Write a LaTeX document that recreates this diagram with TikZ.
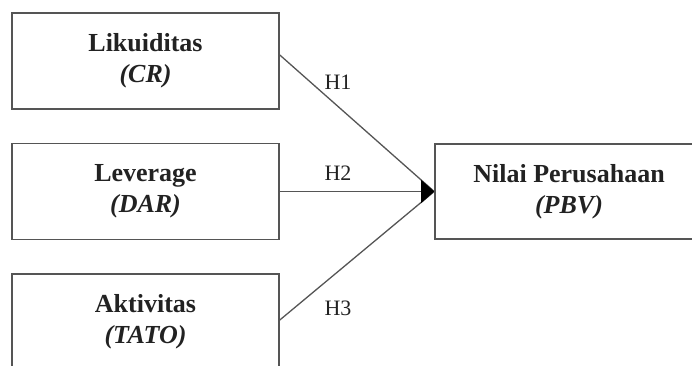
\documentclass[tikz,border=0pt]{standalone}
\usepackage{fontspec}
\setmainfont{Liberation Serif}
\usetikzlibrary{arrows.meta}
\definecolor{linegray}{HTML}{555555}
\definecolor{txt}{HTML}{222222}
\begin{document}
\begin{tikzpicture}[x=1pt,y=1pt,
  varbox/.style={draw=linegray,line width=1.6pt,minimum width=267pt,minimum height=96pt,inner sep=0pt,
    align=center,text=txt,font=\fontsize{26}{31}\selectfont\bfseries},
  conn/.style={draw=linegray,line width=1.3pt},
  connhead/.style={conn,-{Triangle[length=13pt,width=23pt,color=black]}},
  hlab/.style={text=txt,font=\fontsize{22}{26}\selectfont}]
\useasboundingbox (0,0) rectangle (692,365);
\node[varbox] (b1) at (145.5,304) {Likuiditas\\\textit{(CR)}};
\node[varbox] (b2) at (145.5,173.5) {Leverage\\\textit{(DAR)}};
\node[varbox] (b3) at (145.5,43) {Aktivitas\\\textit{(TATO)}};
\node[varbox,minimum width=268pt,minimum height=95pt] (pbv) at (569,173.5) {Nilai Perusahaan\\\textit{(PBV)}};
\coordinate (s1) at ([yshift=6pt]b1.east);
\coordinate (s3) at ([yshift=2pt]b3.east);
\draw[conn] (s1) -- (pbv.west);
\draw[conn] (s3) -- (pbv.west);
\draw[connhead] (b2.east) -- (pbv.west);
\node[hlab] (h1) at (338,283) {H1};
\node[hlab] (h2) at (338,192) {H2};
\node[hlab] (h3) at (338,57) {H3};
\end{tikzpicture}
\end{document}
